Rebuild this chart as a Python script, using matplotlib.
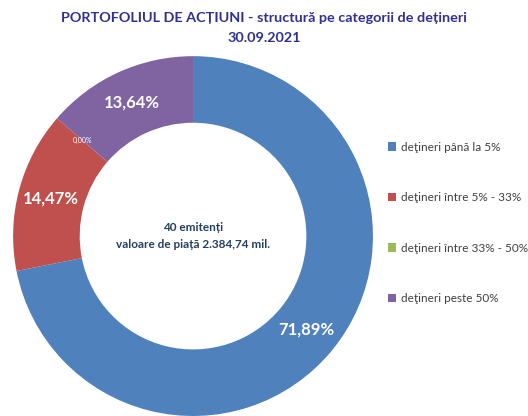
import matplotlib
matplotlib.use("Agg")
import matplotlib.pyplot as plt
import numpy as np

plt.rcParams['font.family'] = ['Lato', 'DejaVu Sans']

# data
categories = ['deţineri până la 5%', 'deţineri între 5% - 33%',
              'deţineri între 33% - 50%', 'deţineri peste 50%']
shares = [71.89, 14.47, 0.00, 13.64]
colors = ['#4F81BD', '#C0504D', '#9BBB59', '#8064A2']
title = 'PORTOFOLIUL DE ACȚIUNI - structură pe categorii de dețineri\n30.09.2021'
center_text = '40 emitenți\nvaloare de piață 2.384,74 mil.'

fig = plt.figure(figsize=(5.28, 4.16), dpi=100)
ax = fig.add_axes([0.0246, 0.0, 0.682, 0.865])

wedges, _ = ax.pie(shares, colors=colors, startangle=90, counterclock=False,
                   radius=1.0, wedgeprops=dict(width=0.37, edgecolor='none'))
ax.set_aspect('equal')
ax.set_xlim(-1, 1)
ax.set_ylim(-1, 1)

# percentage labels in the ring
for w, v in zip(wedges, shares):
    ang = np.deg2rad((w.theta1 + w.theta2) / 2)
    r = 0.815
    txt = f'{v:.2f}%'.replace('.', ',')
    size = 5 if v == 0 else 12
    weight = 'normal' if v == 0 else 'bold'
    ax.text(r * np.cos(ang), r * np.sin(ang), txt, ha='center', va='center',
            color='white', fontsize=size, fontweight=weight)

ax.text(0, 0, center_text, ha='center', va='center', fontsize=8.5,
        fontweight='bold', color='#243F60', linespacing=1.65)

fig.suptitle(title, x=0.5, y=0.972, fontsize=10.4, fontweight='bold',
             color='#2E3192', linespacing=1.8)

fig.legend(wedges, categories, loc='upper left', bbox_to_anchor=(0.715, 0.685),
           frameon=False, fontsize=8.5, labelcolor='#404040',
           handlelength=0.7, handleheight=0.7, handletextpad=0.4,
           labelspacing=3.35)

fig.savefig('out.png', dpi=100)
